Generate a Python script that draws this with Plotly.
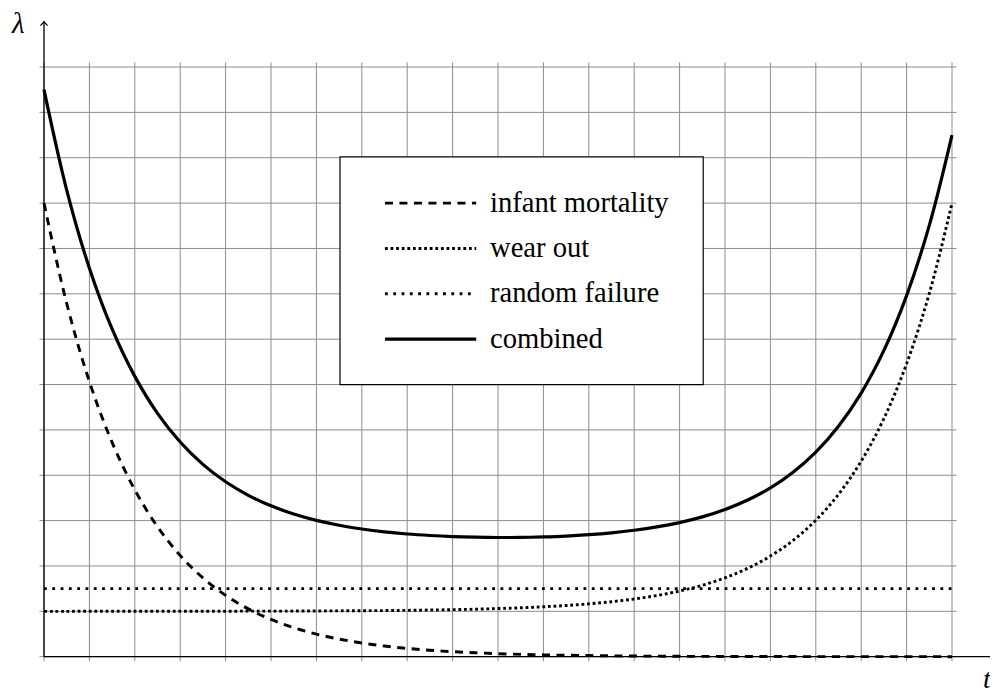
import plotly.graph_objects as go

# ---- data ----
t_values = [0, 0.5, 1, 1.5, 2, 2.5, 3, 3.5, 4, 4.5, 5, 5.5, 6, 6.5, 7, 7.5, 8, 8.5, 9, 9.5,
            10, 10.5, 11, 11.5, 12, 12.5, 13, 13.5, 14, 14.5, 15, 15.5, 16, 16.5, 17, 17.5,
            18, 18.5, 19, 19.5, 20]
infant_mortality = [10.0, 7.788, 6.065, 4.724, 3.679, 2.865, 2.231, 1.738, 1.353, 1.054,
                    0.821, 0.639, 0.498, 0.388, 0.302, 0.235, 0.183, 0.143, 0.111, 0.087,
                    0.067, 0.052, 0.041, 0.032, 0.025, 0.019, 0.015, 0.012, 0.009, 0.007,
                    0.006, 0.004, 0.003, 0.003, 0.002, 0.002, 0.001, 0.001, 0.001, 0.001, 0.0]
wear_out = [1.0, 1.0, 1.001, 1.001, 1.001, 1.001, 1.002, 1.002, 1.003, 1.004,
            1.005, 1.006, 1.008, 1.011, 1.014, 1.017, 1.022, 1.029, 1.037, 1.047,
            1.061, 1.078, 1.100, 1.128, 1.165, 1.212, 1.272, 1.349, 1.448, 1.575,
            1.739, 1.949, 2.218, 2.564, 3.008, 3.579, 4.311, 5.251, 6.459, 8.009, 10.0]
random_t = [0, 20]
random_failure = [1.5, 1.5]
combined = [12.5, 10.288, 8.566, 7.225, 6.180, 5.366, 4.733, 4.240, 3.856, 3.558,
            3.326, 3.145, 3.006, 2.899, 2.816, 2.752, 2.705, 2.672, 2.648, 2.634,
            2.628, 2.630, 2.641, 2.660, 2.690, 2.731, 2.787, 2.861, 2.957, 3.082,
            3.245, 3.453, 3.721, 4.067, 4.510, 5.081, 5.812, 6.752, 7.960, 9.510, 11.5]

grid_x = list(range(0, 21))
grid_y = list(range(0, 14))
legend_names = ["infant mortality", "wear out", "random failure", "combined"]

# ---- styling ----
W, H = 998, 693
PAGE_OFFSET = 8       # the page body margin shifts the figure by this many pixels
PX_X = 45.4           # pixels per unit in x
PX_Y = 45.36          # pixels per unit in y
X0_PX, Y0_PX = 44 - PAGE_OFFSET, 656.7 - PAGE_OFFSET
xmin = -X0_PX / PX_X
xmax = xmin + W / PX_X
ymax = Y0_PX / PX_Y
ymin = ymax - H / PX_Y

FONT = "Liberation Serif, Times New Roman, serif"
DASH_INF = "8px,6.5px"
DOT_WEAR = "2.8px,2.8px"
DOT_RAND = "2.8px,5.5px"
styles = [
    dict(dash=DASH_INF, width=2.9),
    dict(dash=DOT_WEAR, width=2.9),
    dict(dash=DOT_RAND, width=2.9),
    dict(dash="solid", width=3.2),
]

fig = go.Figure()
fig.add_trace(go.Scatter(x=t_values, y=infant_mortality, mode="lines", line_shape="spline",
                         line=dict(color="black", **styles[0]), name=legend_names[0], showlegend=False))
fig.add_trace(go.Scatter(x=t_values, y=wear_out, mode="lines", line_shape="spline",
                         line=dict(color="black", **styles[1]), name=legend_names[1], showlegend=False))
fig.add_trace(go.Scatter(x=random_t, y=random_failure, mode="lines",
                         line=dict(color="black", **styles[2]), name=legend_names[2], showlegend=False))
fig.add_trace(go.Scatter(x=t_values, y=combined, mode="lines", line_shape="spline",
                         line=dict(color="black", **styles[3]), name=legend_names[3], showlegend=False))

shapes = []
ext = 0.1
grid_col = "rgb(140,140,140)"
for gx in grid_x:
    shapes.append(dict(type="line", xref="x", yref="y", x0=gx, x1=gx, y0=grid_y[0] - ext,
                       y1=grid_y[-1] + ext, line=dict(color=grid_col, width=1), layer="below"))
for gy in grid_y:
    shapes.append(dict(type="line", xref="x", yref="y", y0=gy, y1=gy, x0=grid_x[0] - ext,
                       x1=grid_x[-1] + ext, line=dict(color=grid_col, width=1), layer="below"))

# axes with arrows
x_tip = grid_x[-1] + 1
y_tip = grid_y[-1] + 1
shapes.append(dict(type="line", xref="x", yref="y", x0=0, x1=x_tip, y0=0, y1=0,
                   line=dict(color="black", width=1.3), layer="below"))
shapes.append(dict(type="line", xref="x", yref="y", x0=0, x1=0, y0=0, y1=y_tip,
                   line=dict(color="black", width=1.3), layer="below"))
al, aw = 4.0, 3.6  # arrow length / half width in px
shapes.append(dict(type="path", xref="x", yref="y",
                   path=f"M {x_tip - al / PX_X} {aw / PX_Y} Q {x_tip - 1.2 / PX_X} {0.8 / PX_Y} {x_tip} 0 "
                        f"Q {x_tip - 1.2 / PX_X} {-0.8 / PX_Y} {x_tip - al / PX_X} {-aw / PX_Y}",
                   line=dict(color="black", width=1.1)))
shapes.append(dict(type="path", xref="x", yref="y",
                   path=f"M {-aw / PX_X} {y_tip - al / PX_Y} Q {-0.8 / PX_X} {y_tip - 1.2 / PX_Y} 0 {y_tip} "
                        f"Q {0.8 / PX_X} {y_tip - 1.2 / PX_Y} {aw / PX_X} {y_tip - al / PX_Y}",
                   line=dict(color="black", width=1.1)))

# legend box
lx0, lx1, ly0, ly1 = 6.52, 14.52, 6.0, 11.02
shapes.append(dict(type="rect", xref="x", yref="y", x0=lx0, x1=lx1, y0=ly0, y1=ly1,
                   fillcolor="white", line=dict(color="black", width=1.2), layer="above"))
annotations = []
rows = [10, 9, 8, 7]
for name, st, ry in zip(legend_names, styles, rows):
    shapes.append(dict(type="line", xref="x", yref="y", x0=7.51, x1=9.52, y0=ry, y1=ry,
                       line=dict(color="black", width=st["width"], dash=st["dash"]), layer="above"))
    annotations.append(dict(x=9.78, y=ry, xref="x", yref="y", text=name, showarrow=False,
                            xanchor="left", yanchor="middle", yshift=1,
                            font=dict(family=FONT, size=28.6, color="black")))

annotations.append(dict(x=0, y=y_tip, xref="x", yref="y", text="<i>λ</i>", showarrow=False,
                        xanchor="right", yanchor="middle", xshift=-18, yshift=-1, borderpad=0,
                        font=dict(family=FONT, size=29, color="black")))
annotations.append(dict(x=x_tip, y=0, xref="x", yref="y", text="<i>t</i>", showarrow=False,
                        xanchor="right", yanchor="bottom", yshift=-38, xshift=-4, borderpad=0,
                        font=dict(family=FONT, size=28, color="black")))

fig.update_layout(
    width=W, height=H, autosize=False,
    margin=dict(l=0, r=0, t=0, b=0, pad=0),
    paper_bgcolor="white", plot_bgcolor="white",
    xaxis=dict(range=[xmin, xmax], visible=False, fixedrange=True),
    yaxis=dict(range=[ymin, ymax], visible=False, fixedrange=True),
    shapes=shapes, annotations=annotations, showlegend=False,
)

fig.write_html("out.html")
